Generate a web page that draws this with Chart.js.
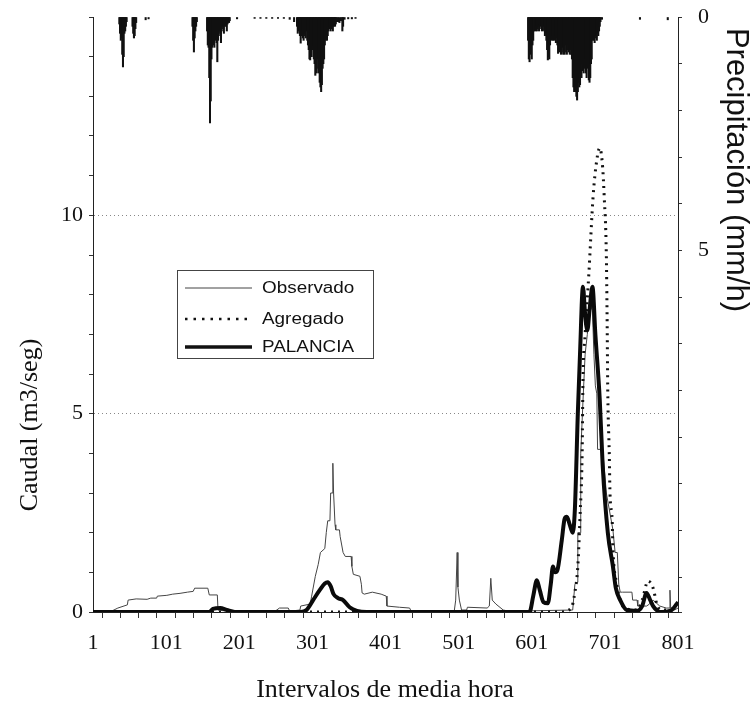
<!DOCTYPE html>
<html>
<head>
<meta charset="utf-8">
<script src="https://cdn.jsdelivr.net/npm/chart.js@4.4.0/dist/chart.umd.min.js"></script>
<style>
  html, body { margin: 0; padding: 0; background: #fff; }
  #wrap { width: 751px; height: 718px; }
</style>
</head>
<body>
<div id="wrap"><canvas id="chart" width="751" height="718"></canvas></div>
<script>
// tick labels
const xTickLabels = [1, 101, 201, 301, 401, 501, 601, 701, 801];
const yTickLabels = [0, 5, 10];
const rainTickLabels = [0, 5];

// Observado (caudal observado, m3/seg)
const obsX = [1, 24, 35, 48, 49, 60, 75, 80, 88, 89, 102, 110, 120, 130, 138, 140, 158, 160, 171, 172, 180, 200, 250,
  256, 268, 270, 284, 285, 298, 300, 305, 309, 312, 318, 320, 322, 325, 326, 328, 329, 330, 332, 333, 338, 339, 343,
  346, 354, 355, 357, 366, 368, 369, 372, 383, 395, 402, 403, 420, 434, 436, 495, 497, 499, 500, 502, 505, 512, 513,
  540, 543, 545, 547, 552, 562, 570, 657, 660, 663, 664, 667, 668, 671, 674, 677, 680, 684, 686, 688, 690, 691, 698,
  703, 712, 715, 718, 720, 722, 725, 738, 739, 745, 746, 758, 762, 767, 770, 776, 785, 789, 790, 791, 794, 796, 801];
const obsY = [0, 0, 0.1, 0.18, 0.3, 0.33, 0.32, 0.35, 0.35, 0.4, 0.42, 0.45, 0.47, 0.5, 0.52, 0.6, 0.6, 0.43, 0.43, 0.05,
  0.03, 0.02, 0.02, 0.1, 0.1, 0.02, 0.05, 0.15, 0.2, 0.4, 0.9, 1.2, 1.5, 1.6, 2.0, 2.3, 2.3, 3.0, 3.0, 3.75, 3.0, 2.2,
  2.07, 2.07, 1.9, 1.5, 1.4, 1.4, 1.15, 0.95, 0.9, 0.7, 0.48, 0.45, 0.5, 0.45, 0.4, 0.15, 0.12, 0.1, 0.02, 0.02, 0.3,
  1.5, 0.63, 0.3, 0.05, 0.05, 0.12, 0.1, 0.15, 0.85, 0.3, 0.2, 0.05, 0.02, 0.05, 0.7, 0.75, 2.0, 2.0, 4.0, 5.3, 6.5,
  7.0, 7.8, 7.6, 6.5, 5.7, 5.5, 4.1, 4.1, 3.0, 2.07, 1.5, 1.5, 0.7, 0.5, 0.5, 0.5, 0.3, 0.3, 0.15, 0.15, 0.2, 0.3,
  0.25, 0.15, 0.1, 0.1, 0.55, 0.1, 0.1, 0.05, 0.1];

// Agregado
const agrX = [1, 640, 655, 660, 664, 667, 670, 671, 674, 679, 685, 690, 694, 698, 700, 703, 704, 705, 707, 708, 711, 712,
  717, 722, 728, 745, 752, 760, 767, 772, 778, 801];
const agrY = [0, 0, 0.1, 0.5, 1.15, 2.4, 4.1, 5.8, 7.0, 8.5, 10.5, 11.4, 11.7, 11.2, 10.5, 9.0, 7.5, 5.5, 4.0, 3.0, 2.3,
  1.6, 0.73, 0.3, 0.1, 0.05, 0.3, 0.78, 0.6, 0.2, 0.05, 0.05];

// PALANCIA
const palX = [1, 160, 165, 175, 184, 195, 285, 293, 302, 311, 318, 322, 326, 330, 336, 343, 352, 362, 375, 598, 603, 608,
  612, 617, 623, 627, 630, 633, 636, 642, 646, 649, 653, 657, 660, 664, 667, 671, 674, 677, 680, 684, 688, 694, 698,
  705, 712, 716, 722, 731, 745, 752, 758, 763, 767, 773, 779, 790, 795, 801];
const palY = [0, 0, 0.08, 0.1, 0.05, 0, 0, 0.05, 0.3, 0.55, 0.72, 0.75, 0.65, 0.45, 0.35, 0.3, 0.12, 0.03, 0, 0, 0.4, 0.8,
  0.55, 0.25, 0.22, 0.7, 1.15, 1.0, 1.05, 1.8, 2.35, 2.4, 2.2, 2.0, 2.6, 5.0, 6.5, 8.2, 7.5, 7.1, 7.6, 8.2, 7.0, 5.35,
  3.7, 2.0, 1.15, 0.6, 0.3, 0.05, 0.03, 0.15, 0.48, 0.3, 0.15, 0.03, 0, 0.03, 0.1, 0.25];

// Precipitación (mm/h)
const rainX = [37, 38, 39, 40, 41, 42, 43, 44, 45, 46, 47,
  55, 56, 57, 58, 59, 60, 73, 77,
  137, 138, 139, 140, 141, 142, 143,
  157, 158, 159, 160, 161, 162, 163, 164, 165, 166, 167, 168, 169, 170, 171, 172, 173, 174, 175, 176, 177, 178, 179,
  180, 181, 182, 183, 184, 185, 186, 187, 188, 198,
  222, 230, 238, 246, 254, 262, 270, 276, 280, 281, 282, 283, 284, 285, 286, 287, 288, 289, 290, 291, 292, 293, 294,
  295, 296, 297, 298, 299, 300, 301, 302, 303, 304, 305, 306, 307, 308, 309, 310, 311, 312, 313, 314, 315, 316, 317,
  318, 319, 320, 321, 322, 323, 324, 325, 326, 327, 328, 329, 330, 331, 332, 333, 334, 336, 338, 340, 342, 343, 345,
  350, 355, 360,
  596, 597, 598, 599, 600, 601, 602, 603, 604, 605, 606, 607, 608, 609, 610, 611, 612, 613, 614, 615, 616, 617, 618,
  619, 620, 621, 622, 623, 624, 625, 626, 627, 628, 629, 630, 631, 632, 633, 634, 635, 636, 637, 638, 639, 640, 641,
  642, 643, 644, 645, 646, 647, 648, 649, 650, 651, 652, 653, 654, 655, 656, 657, 658, 659, 660, 661, 662, 663, 664,
  665, 666, 667, 668, 669, 670, 671, 672, 673, 674, 675, 676, 677, 678, 679, 680, 681, 682, 683, 684, 685, 686, 687,
  688, 689, 690, 691, 692, 693, 694, 695, 697, 749, 787];
const rainY = [0.15, 0.35, 0.5, 0.45, 0.8, 1.07, 0.85, 0.35, 0.3, 0.2, 0.1,
  0.2, 0.35, 0.45, 0.4, 0.25, 0.12, 0.06, 0.04,
  0.2, 0.5, 0.75, 0.45, 0.3, 0.2, 0.1,
  0.3, 0.6, 0.65, 1.3, 2.27, 1.8, 0.9, 0.65, 0.6, 0.55, 0.65, 0.5, 0.45, 0.55, 0.96, 0.5, 0.4, 0.3, 0.35, 0.55, 0.3,
  0.2, 0.25, 0.35, 0.2, 0.15, 0.2, 0.3, 0.15, 0.1, 0.12, 0.08, 0.04,
  0.03, 0.03, 0.03, 0.03, 0.03, 0.03, 0.05, 0.1, 0.2, 0.35, 0.3, 0.2, 0.4, 0.56, 0.4, 0.3, 0.45, 0.5, 0.35, 0.4, 0.45,
  0.3, 0.5, 0.6, 0.7, 0.9, 0.92, 0.8, 0.85, 0.7, 0.6, 0.9, 1.0, 1.25, 1.1, 1.2, 0.9, 1.1, 1.2, 1.4, 1.5, 1.6, 1.45,
  1.1, 1.0, 0.9, 0.6, 0.5, 0.45, 0.5, 0.4, 0.3, 0.25, 0.2, 0.3, 0.25, 0.2, 0.3, 0.2, 0.15, 0.2, 0.15, 0.1, 0.1, 0.12,
  0.08, 0.3, 0.2, 0.05, 0.04, 0.04, 0.03,
  0.5, 0.9, 0.96, 0.7, 0.8, 0.9, 0.6, 0.5, 0.3, 0.25, 0.3, 0.2, 0.3, 0.25, 0.2, 0.3, 0.15, 0.2, 0.25, 0.3, 0.28, 0.2,
  0.3, 0.4, 0.35, 0.5, 0.7, 0.92, 0.85, 0.9, 0.6, 0.45, 0.5, 0.4, 0.5, 0.45, 0.5, 0.4, 0.55, 0.45, 0.6, 0.78, 0.7,
  0.75, 0.6, 0.8, 0.75, 0.65, 0.8, 0.7, 0.8, 0.6, 0.75, 0.8, 0.7, 0.6, 0.75, 0.8, 0.7, 0.8, 0.9, 1.3, 1.5, 1.6, 1.55,
  1.6, 1.7, 1.78, 1.6, 1.4, 1.5, 1.45, 1.2, 1.3, 1.15, 1.0, 1.2, 1.1, 0.9, 1.2, 1.3, 1.1, 1.0, 1.35, 1.4, 1.3, 1.0,
  0.9, 0.5, 0.45, 0.5, 0.55, 0.4, 0.45, 0.5, 0.35, 0.4, 0.3, 0.2, 0.1, 0.05, 0.05, 0.06];

const toPoints = (xs, ys) => xs.map((x, i) => ({ x: x, y: ys[i] }));

const serif = '"Liberation Serif", "Times New Roman", serif';
const sans = '"Liberation Sans", Arial, sans-serif';

// titles and legend box drawn on top
const annotations = {
  id: 'annotations',
  afterDraw(chart) {
    const ctx = chart.ctx;
    ctx.save();
    ctx.fillStyle = '#111';
    ctx.textAlign = 'center';
    ctx.textBaseline = 'middle';
    ctx.font = '26px ' + serif;
    ctx.fillText('Intervalos de media hora', 385, 690);
    ctx.save();
    ctx.translate(30, 425);
    ctx.rotate(-Math.PI / 2);
    ctx.fillText('Caudal (m3/seg)', 0, 0);
    ctx.restore();
    ctx.save();
    ctx.translate(736, 170);
    ctx.rotate(Math.PI / 2);
    ctx.font = '31px ' + sans;
    ctx.fillText('Precipitación (mm/h)', 0, 0);
    ctx.restore();

    // legend
    ctx.strokeStyle = '#444';
    ctx.lineWidth = 1;
    ctx.strokeRect(177.5, 270.5, 196, 88);
    const rows = [
      { label: 'Observado', y: 288, width: 1, dash: [], color: '#444' },
      { label: 'Agregado', y: 319, width: 2.5, dash: [2.5, 6], color: '#111' },
      { label: 'PALANCIA', y: 347, width: 3.5, dash: [], color: '#111' }
    ];
    rows.forEach(r => {
      ctx.beginPath();
      ctx.setLineDash(r.dash);
      ctx.lineWidth = r.width;
      ctx.strokeStyle = r.color;
      ctx.moveTo(185, r.y);
      ctx.lineTo(252, r.y);
      ctx.stroke();
      ctx.setLineDash([]);
      ctx.save();
      ctx.translate(262, r.y);
      ctx.scale(1.18, 1);
      ctx.textAlign = 'left';
      ctx.font = '16px ' + sans;
      ctx.fillStyle = '#111';
      ctx.fillText(r.label, 0, 1);
      ctx.restore();
    });
    ctx.restore();
  }
};

// fixed axis sizes, no extra label padding
const fitVertical = w => scale => {
  scale.width = w;
  scale.paddingTop = 0;
  scale.paddingBottom = 0;
};

const ctx = document.getElementById('chart').getContext('2d');
new Chart(ctx, {
  type: 'line',
  data: {
    datasets: [
      {
        label: 'PALANCIA',
        data: toPoints(palX, palY),
        borderColor: '#0a0a0a',
        borderWidth: 4,
        pointRadius: 0,
        cubicInterpolationMode: 'monotone',
        yAxisID: 'y',
        order: 1
      },
      {
        label: 'Agregado',
        data: toPoints(agrX, agrY),
        borderColor: '#111',
        borderWidth: 3,
        borderDash: [2, 5],
        pointRadius: 0,
        cubicInterpolationMode: 'monotone',
        yAxisID: 'y',
        order: 2
      },
      {
        label: 'Observado',
        data: toPoints(obsX, obsY),
        borderColor: '#444',
        borderWidth: 1,
        pointRadius: 0,
        tension: 0,
        yAxisID: 'y',
        order: 3
      },
      {
        type: 'bar',
        label: 'Precipitación',
        data: toPoints(rainX, rainY),
        backgroundColor: '#111',
        borderWidth: 0,
        barThickness: 1.4,
        yAxisID: 'y2',
        order: 4
      }
    ]
  },
  options: {
    responsive: false,
    animation: false,
    layout: { padding: { top: 17, left: 0, right: 0, bottom: 0 } },
    plugins: {
      legend: { display: false },
      tooltip: { enabled: false }
    },
    scales: {
      x: {
        type: 'linear',
        min: 1,
        max: 801,
        offset: false,
        afterBuildTicks: scale => {
          const t = [];
          for (let v = 1; v <= 801; v += 25) t.push({ value: v });
          scale.ticks = t;
        },
        afterFit: scale => {
          scale.height = 106;
          scale.paddingLeft = 0;
          scale.paddingRight = 0;
        },
        ticks: {
          autoSkip: false,
          maxRotation: 0,
          padding: 12,
          color: '#111',
          font: { family: serif, size: 22 },
          callback: v => xTickLabels.includes(v) ? String(v) : ''
        },
        grid: { drawOnChartArea: false, tickLength: 6, tickColor: '#333' },
        border: { color: '#222', width: 1 }
      },
      y: {
        position: 'left',
        min: 0,
        max: 15,
        afterFit: fitVertical(93),
        ticks: {
          stepSize: 1,
          autoSkip: false,
          padding: 6,
          color: '#111',
          font: { family: serif, size: 22 },
          callback: v => yTickLabels.includes(v) ? String(v) : ''
        },
        grid: {
          color: c => (c.tick && (c.tick.value === 5 || c.tick.value === 10)) ? '#888' : 'rgba(0,0,0,0)',
          tickColor: '#333',
          tickLength: 4
        },
        border: { color: '#222', width: 1, dash: [1, 3] }
      },
      y2: {
        position: 'right',
        min: 0,
        max: 12.75,
        reverse: true,
        afterFit: fitVertical(73),
        ticks: {
          stepSize: 1,
          autoSkip: false,
          padding: 16,
          color: '#111',
          font: { family: serif, size: 22 },
          callback: v => rainTickLabels.includes(v) ? String(v) : ''
        },
        grid: { drawOnChartArea: false, tickLength: 4, tickColor: '#333' },
        border: { color: '#222', width: 1 }
      }
    }
  },
  plugins: [annotations]
});
</script>
</body>
</html>
